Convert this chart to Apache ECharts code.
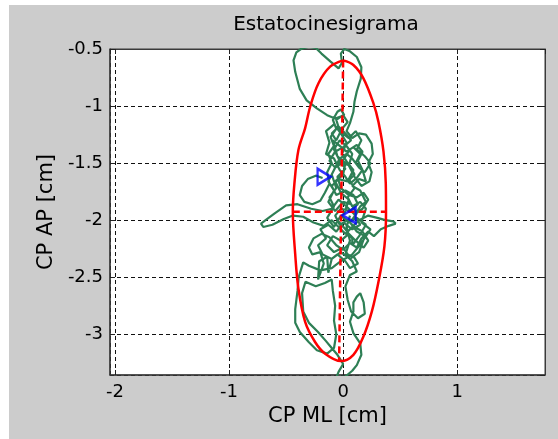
<!DOCTYPE html>
<html>
<head>
<meta charset="utf-8">
<script src="https://cdn.jsdelivr.net/npm/echarts@6/dist/echarts.min.js"></script>
<style>
html,body{margin:0;padding:0;background:#ffffff;}
#c{position:absolute;left:9px;top:5px;width:549px;height:434px;}
</style>
</head>
<body>
<div id="c"></div>
<script>
// ---- data ----
const titleText = 'Estatocinesigrama';
const xName = 'CP ML [cm]';
const yName = 'CP AP [cm]';
const xRange = [-2.044, 1.77];
const yRange = [-3.357, -0.5];

// centre-of-pressure trajectory (ML, AP)
const trajML = [-0.18,-0.24,-0.31,-0.36,-0.38,-0.34,-0.27,-0.20,-0.16,-0.12,-0.14,-0.10,-0.13,-0.08,-0.11,-0.06,-0.09,-0.05,-0.02,0.01,
  -0.07,-0.14,-0.23,-0.32,-0.38,-0.42,-0.435,-0.41,-0.37,-0.30,-0.24,-0.19,-0.11,-0.04,-0.01,-0.02,0.01,0.06,0.12,0.16,
  0.155,0.12,0.10,0.09,0.06,0.03,0.08,0.14,0.20,0.25,0.26,0.22,0.25,0.23,0.16,0.10,0.05,0.08,0.03,-0.03,
  -0.08,-0.04,0.02,-0.05,-0.02,0.05,0.12,0.18,0.22,0.17,0.10,0.03,-0.04,-0.10,-0.18,-0.28,-0.40,-0.50,-0.60,-0.68,
  -0.72,-0.70,-0.62,-0.52,-0.44,-0.35,-0.26,-0.17,-0.10,-0.04,0.02,0.08,0.14,0.22,0.30,0.37,0.44,0.46,0.40,0.33,
  0.27,0.22,0.16,0.12,0.06,0.00,-0.06,-0.12,-0.19,-0.26,-0.30,-0.27,-0.20,-0.17,-0.22,-0.21,-0.14,-0.13,-0.10,-0.05,
  0.02,0.06,0.13,0.10,0.04,0.08,0.14,0.20,0.12,0.05,-0.02,-0.08,-0.14,-0.08,-0.12,-0.06,-0.10,-0.06,0.01,0.06,
  0.12,0.17,0.13,0.17,0.12,0.06,0.02,-0.03,-0.08,-0.15,-0.12,-0.15,-0.08,-0.02,0.03,-0.01,0.04,0.09,0.05,0.10,
  0.04,0.08,0.15,0.20,0.16,0.24,0.16,0.08,-0.02,-0.10,-0.20,-0.30,-0.35,-0.39,-0.40,-0.42,-0.42,-0.38,-0.30,-0.23,
  -0.14,-0.08,-0.06,-0.08,-0.07,-0.09,-0.10,-0.16,-0.24,-0.33,-0.36,-0.35,-0.30,-0.22,-0.15,-0.10,-0.05,0.00,-0.04,-0.06,
  0.02,0.08,0.12,0.16,0.15,0.09,0.06,0.09,0.09,0.12,0.15,0.18,0.19,0.13,0.07,0.04,0.02,0.06,0.12,0.08,
  0.02,0.06,0.03,0.06];
const trajAP = [-1.63,-1.61,-1.64,-1.70,-1.78,-1.84,-1.86,-1.83,-1.76,-1.68,-1.58,-1.50,-1.42,-1.35,-1.27,-1.20,-1.12,-1.05,-1.03,-1.08,
  -1.11,-1.08,-1.02,-0.95,-0.85,-0.70,-0.60,-0.53,-0.50,-0.48,-0.49,-0.54,-0.61,-0.67,-0.62,-0.54,-0.50,-0.52,-0.57,-0.66,
  -0.76,-0.87,-0.96,-1.05,-1.15,-1.22,-1.28,-1.24,-1.25,-1.33,-1.42,-1.50,-1.58,-1.66,-1.70,-1.62,-1.52,-1.42,-1.35,-1.30,
  -1.38,-1.46,-1.55,-1.62,-1.72,-1.78,-1.80,-1.76,-1.82,-1.90,-1.95,-1.88,-1.82,-1.90,-1.92,-1.90,-1.86,-1.87,-1.94,-2.00,
  -2.03,-2.06,-2.04,-1.99,-1.96,-1.97,-2.02,-2.05,-2.00,-2.06,-2.12,-2.06,-2.00,-1.96,-1.98,-2.00,-2.01,-2.03,-2.05,-2.08,
  -2.14,-2.10,-2.16,-2.24,-2.20,-2.26,-2.22,-2.15,-2.12,-2.16,-2.24,-2.30,-2.28,-2.38,-2.52,-2.36,-2.32,-2.46,-2.34,-2.30,
  -2.36,-2.42,-2.38,-2.33,-2.30,-2.22,-2.14,-2.04,-1.98,-2.02,-1.96,-2.06,-1.98,-1.88,-1.80,-1.72,-1.60,-1.52,-1.46,-1.38,
  -1.34,-1.40,-1.48,-1.56,-1.63,-1.68,-1.62,-1.56,-1.46,-1.42,-1.32,-1.22,-1.16,-1.24,-1.32,-1.42,-1.50,-1.56,-1.64,-1.72,
  -1.80,-1.88,-1.84,-1.90,-2.02,-2.08,-2.20,-2.30,-2.36,-2.42,-2.44,-2.40,-2.37,-2.50,-2.62,-2.78,-2.90,-2.98,-3.07,-3.14,
  -3.17,-3.12,-3.00,-2.88,-2.75,-2.62,-2.52,-2.55,-2.58,-2.54,-2.64,-2.80,-2.90,-2.98,-3.06,-3.12,-3.18,-3.26,-3.33,-3.38,
  -3.37,-3.32,-3.27,-3.18,-3.08,-2.99,-2.89,-2.80,-2.72,-2.67,-2.64,-2.72,-2.82,-2.86,-2.80,-2.70,-2.58,-2.48,-2.45,-2.36,
  -2.30,-2.18,-2.06,-1.96];

// dense central tangle of the trajectory (continues the walk after point 125)
const coreML = [0.00,-0.08,-0.14,-0.09,-0.02,0.05,0.11,0.18,0.22,0.17,
  0.10,0.04,-0.03,-0.07,-0.02,0.06,0.13,0.09,0.02,-0.06,
  -0.10,-0.04,0.04,0.10,0.06,-0.01,-0.07,-0.12,-0.07,0.00,
  0.07,0.02,-0.04,-0.10,-0.06,-0.01,0.04,0.00,-0.06,-0.03,
  0.05,0.11,0.16,0.12,0.19,0.24,0.19,0.14,0.08,0.03,
  -0.03,-0.09,-0.13,-0.08,-0.13,-0.07,0.00,0.07,0.12,0.06,
  0.12,0.19,0.14,0.06,-0.02,-0.10,-0.18,-0.22,-0.15,-0.20,
  -0.13,-0.06,0.00,0.08,0.15,0.10,0.15,0.20,0.15,0.08,
  0.14,0.20,0.17,0.11,0.15,0.09,0.03,-0.04,-0.09,-0.05,
  0.02,0.00,-0.07,-0.02,0.05,0.01,-0.05,0.02,0.08,0.08];
const coreAP = [-2.24,-2.28,-2.22,-2.14,-2.18,-2.12,-2.18,-2.24,-2.18,-2.10,
  -2.06,-2.00,-2.04,-1.96,-1.90,-1.92,-1.86,-1.78,-1.74,-1.78,
  -1.70,-1.64,-1.66,-1.60,-1.52,-1.50,-1.54,-1.48,-1.40,-1.36,
  -1.30,-1.24,-1.18,-1.24,-1.30,-1.20,-1.14,-1.08,-1.12,-1.22,
  -1.28,-1.22,-1.30,-1.38,-1.44,-1.50,-1.58,-1.54,-1.46,-1.42,
  -1.46,-1.58,-1.66,-1.74,-1.84,-1.92,-1.84,-1.86,-1.94,-2.02,
  -2.10,-2.14,-2.28,-2.34,-2.28,-2.34,-2.30,-2.22,-2.16,-2.08,
  -2.04,-2.10,-2.02,-2.08,-2.04,-1.96,-1.88,-1.84,-1.74,-1.70,
  -1.64,-1.66,-1.56,-1.50,-1.42,-1.36,-1.40,-1.34,-1.30,-1.44,
  -1.50,-1.60,-1.66,-1.76,-1.82,-1.94,-2.00,-2.08,-2.16,-2.22];
const coreInsertAt = 125;

// confidence ellipse outline
const ellipseML = [0.00,0.09,0.178,0.266,0.31,0.354,0.374,0.376,0.362,0.31,0.252,0.178,0.09,-0.02,-0.158,-0.246,-0.333,-0.392,-0.42,-0.441,-0.427,-0.392,-0.333,-0.289,-0.216,-0.114,0.00];
const ellipseAP = [-0.60,-0.64,-0.757,-0.976,-1.14,-1.40,-1.68,-1.93,-2.23,-2.54,-2.80,-3.02,-3.18,-3.235,-3.17,-3.068,-2.892,-2.60,-2.30,-1.927,-1.678,-1.386,-1.193,-1.006,-0.80,-0.655,-0.60];

// ellipse axes (dashed)
const majorML = [0.00, -0.035];
const majorAP = [-0.60, -3.23];
const minorML = [-0.441, 0.374];
const minorAP = [-1.927, -1.927];

// start / end markers
const startPt = [-0.167, -1.62];
const endPt = [0.053, -1.956];

// ---- build chart ----
const zip = (a, b) => a.map((v, i) => [v, b[i]]);
const fullML = trajML.slice(0, coreInsertAt).concat(coreML, trajML.slice(coreInsertAt));
const fullAP = trajAP.slice(0, coreInsertAt).concat(coreAP, trajAP.slice(coreInsertAt));
const FONT = 'DejaVu Sans';
const green = '#2e7f55';
const red = '#ff0000';
const blue = '#0000ff';

const gridLine = { show: true, lineStyle: { color: '#111', type: [4, 3], width: 1 } };

const chart = echarts.init(document.getElementById('c'), null, { renderer: 'canvas' });
chart.setOption({
  animation: false,
  backgroundColor: '#cccccc',
  grid: { left: 101, top: 44, width: 435, height: 326, show: true, backgroundColor: '#ffffff', borderColor: '#3a3a3a', borderWidth: 1, containLabel: false },
  graphic: [{
    type: 'text', x: 317, y: 20, z: 10,
    style: { text: titleText, font: '20px "' + FONT + '"', fill: '#000', textAlign: 'center', textVerticalAlign: 'middle', align: 'center', verticalAlign: 'middle' }
  }],
  xAxis: [{
    type: 'value', min: xRange[0], max: xRange[1], position: 'bottom',
    name: xName, nameLocation: 'middle', nameGap: 31,
    nameTextStyle: { fontFamily: FONT, fontSize: 21, color: '#000' },
    axisLine: { show: true, onZero: false, lineStyle: { color: '#3a3a3a', width: 1.5 } },
    axisTick: { show: true, inside: true, length: 5, lineStyle: { color: '#222' } },
    axisLabel: { fontFamily: FONT, fontSize: 18, color: '#000', margin: 8, showMinLabel: false, showMaxLabel: false },
    splitLine: gridLine
  }, {
    type: 'value', min: xRange[0], max: xRange[1], position: 'top',
    axisLine: { show: true, onZero: false, lineStyle: { color: '#3a3a3a', width: 1 } },
    axisTick: { show: true, inside: true, length: 5, lineStyle: { color: '#222' } },
    axisLabel: { show: false }, splitLine: { show: false }
  }],
  yAxis: [{
    type: 'value', min: yRange[0], max: yRange[1], position: 'left',
    name: yName, nameLocation: 'middle', nameGap: 52,
    nameTextStyle: { fontFamily: FONT, fontSize: 21, color: '#000' },
    axisLine: { show: true, onZero: false, lineStyle: { color: '#3a3a3a', width: 1.5 } },
    axisTick: { show: true, inside: true, length: 5, lineStyle: { color: '#222' } },
    axisLabel: { fontFamily: FONT, fontSize: 18, color: '#000', margin: 7, showMinLabel: false, showMaxLabel: true },
    splitLine: gridLine
  }, {
    type: 'value', min: yRange[0], max: yRange[1], position: 'right',
    axisLine: { show: true, onZero: false, lineStyle: { color: '#3a3a3a', width: 1 } },
    axisTick: { show: true, inside: true, length: 5, lineStyle: { color: '#222' } },
    axisLabel: { show: false }, splitLine: { show: false }
  }],
  series: [
    { type: 'line', name: 'trajectory', data: zip(fullML, fullAP), showSymbol: false, symbol: 'none', clip: true, z: 2,
      lineStyle: { color: green, width: 2.2 } },
    { type: 'line', name: 'ellipse', data: zip(ellipseML, ellipseAP), showSymbol: false, symbol: 'none', smooth: 0.35, clip: true, z: 3,
      lineStyle: { color: red, width: 2.5 } },
    { type: 'line', name: 'major', data: zip(majorML, majorAP), showSymbol: false, symbol: 'none', z: 4,
      lineStyle: { color: red, width: 2.5, type: [7, 4] } },
    { type: 'line', name: 'minor', data: zip(minorML, minorAP), showSymbol: false, symbol: 'none', z: 4,
      lineStyle: { color: red, width: 2.5, type: [7, 4] } },
    { type: 'scatter', name: 'start', data: [startPt], symbol: 'triangle', symbolSize: [16, 13], symbolRotate: -90, z: 5,
      itemStyle: { color: 'rgba(0,0,0,0)', borderColor: blue, borderWidth: 2.5 } },
    { type: 'scatter', name: 'end', data: [endPt], symbol: 'triangle', symbolSize: [16, 13], symbolRotate: 90, z: 5,
      itemStyle: { color: 'rgba(0,0,0,0)', borderColor: blue, borderWidth: 2.5 } }
  ]
});
</script>
</body>
</html>
